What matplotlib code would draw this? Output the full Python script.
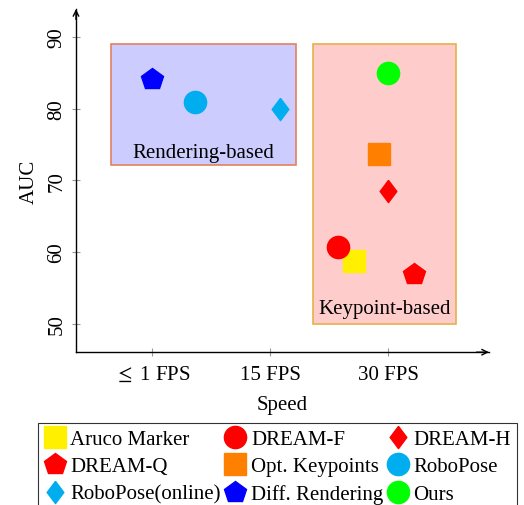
import matplotlib.pyplot as plt
from matplotlib.patches import Rectangle
from matplotlib.lines import Line2D

plt.rcParams['font.family'] = ['Liberation Serif', 'DejaVu Serif']
plt.rcParams['mathtext.fontset'] = 'stix'

# Dados
metodos = ['Aruco Marker', 'DREAM-F', 'DREAM-H', 'DREAM-Q', 'Opt. Keypoints',
           'RoboPose', 'RoboPose(online)', 'Diff. Rendering', 'Ours']
velocidade = [1.71, 1.57, 2.0, 2.22, 1.92, 0.36, 1.08, 0.0, 2.0]
auc = [58.7, 60.7, 68.5, 56.9, 73.7, 81.0, 80.0, 84.1, 85.0]
tick_labels = [r'$\leq$ 1 FPS', '15 FPS', '30 FPS']

diamante = [(0, 1), (0.75, 0), (0, -1), (-0.75, 0), (0, 1)]
marcadores = ['s', 'o', diamante, 'p', 's', 'o', diamante, 'p', 'o']
cores = ['#FFF000', '#FF0000', '#FF0000', '#FF0000', '#FF8000',
         '#00AEEF', '#00AEEF', '#0000FF', '#00FF00']
tamanhos = [16, 16, 16, 16, 16, 16, 16, 16, 16]

fig = plt.figure(figsize=(5.24, 5.06), dpi=100)
ax = fig.add_axes([0.145, 0.302, 0.788, 0.678])
ax.set_xlim(-0.644, 2.85)
ax.set_ylim(46.0, 93.9)

# Caixas das categorias
ax.add_patch(Rectangle((-0.35, 72.1), 1.57, 16.9, facecolor='#CCCCFF',
                       edgecolor='#E58060', linewidth=1.2, zorder=1))
ax.add_patch(Rectangle((1.365, 50.0), 1.205, 39.0, facecolor='#FFCCCC',
                       edgecolor='#E8B048', linewidth=1.2, zorder=1))
ax.text(0.435, 73.9, 'Rendering-based', ha='center', va='center', fontsize=15, zorder=2)
ax.text(1.965, 52.1, 'Keypoint-based', ha='center', va='center', fontsize=15, zorder=2)

for x, y, m, c, s in zip(velocidade, auc, marcadores, cores, tamanhos):
    ax.plot(x, y, marker=m, color=c, markersize=s, linestyle='none', zorder=3)

# Eixos com setas
for lado in ['top', 'right']:
    ax.spines[lado].set_visible(False)
ax.spines['left'].set_linewidth(1.0)
ax.spines['bottom'].set_linewidth(1.0)
ax.annotate('', xy=(1.0, 0), xytext=(0.97, 0), xycoords='axes fraction',
            arrowprops=dict(arrowstyle='->', lw=1.0, color='black', shrinkA=0, shrinkB=0))
ax.annotate('', xy=(0, 1.0), xytext=(0, 0.97), xycoords='axes fraction',
            arrowprops=dict(arrowstyle='->', lw=1.0, color='black', shrinkA=0, shrinkB=0))

ax.set_xticks([0, 1, 2])
ax.set_xticklabels(tick_labels, fontsize=15)
ax.set_yticks([50, 60, 70, 80, 90])
ax.set_yticklabels(['50', '60', '70', '80', '90'], fontsize=15, rotation=90, va='center')
ax.tick_params(direction='inout', length=6, color='#999999', width=0.8)
ax.tick_params(axis='x', pad=6)
ax.tick_params(axis='y', pad=4)
ax.set_xlabel('Speed', fontsize=15, labelpad=8)
ax.set_ylabel('AUC', fontsize=15, labelpad=6)

# Legenda (preenchida por linhas, como no original)
handles = [Line2D([], [], marker=m, color=c, markersize=s, linestyle='none')
           for m, c, s in zip(marcadores, cores, tamanhos)]
ordem = [0, 3, 6, 1, 4, 7, 2, 5, 8]
leg = fig.legend([handles[i] for i in ordem], [metodos[i] for i in ordem],
                 loc='upper left', bbox_to_anchor=(38 / 524, 1 - 424 / 506),
                 ncol=3, fontsize=15, frameon=True, fancybox=False, edgecolor='black',
                 handlelength=1.0, handletextpad=0.25, columnspacing=0.2,
                 labelspacing=0.38, borderpad=0.3, borderaxespad=0)
leg.get_frame().set_linewidth(0.8)

fig.savefig('out.png', dpi=100)
